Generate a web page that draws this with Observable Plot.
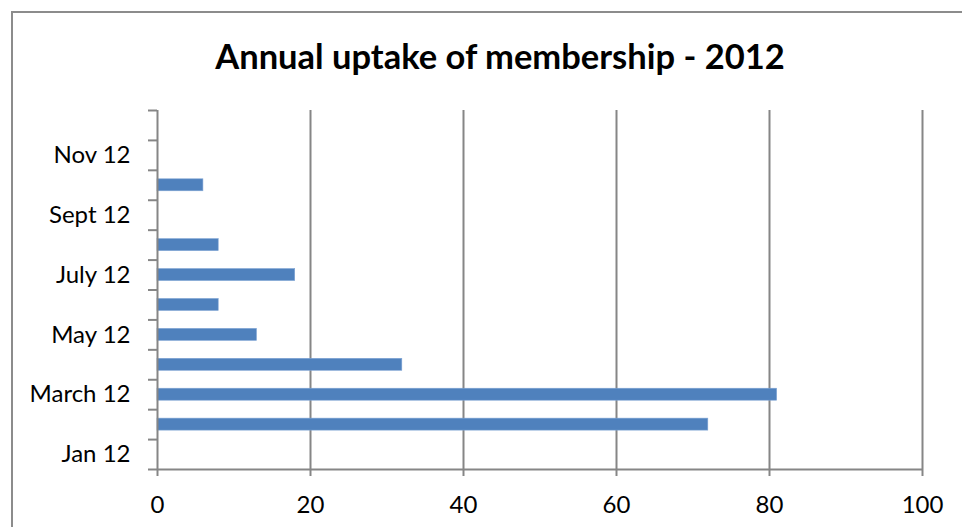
<!DOCTYPE html>
<html><head><meta charset="utf-8">
<script src="https://cdn.jsdelivr.net/npm/d3@7"></script>
<script src="https://cdn.jsdelivr.net/npm/@observablehq/plot@0.6"></script>
<style>
body{margin:0;background:#fff;overflow:hidden;}
#wrap{position:relative;width:962px;height:527px;overflow:hidden;}
#frame{position:absolute;left:11px;top:11px;width:1000px;height:600px;border:2px solid #8c8c8c;box-sizing:border-box;}
#title{position:absolute;top:35px;left:0;width:1000px;text-align:center;font:bold 34.5px Lato, "Open Sans", sans-serif;color:#000;}
#chart{position:absolute;left:0;top:0;}
</style>
</head><body>
<div id="wrap"><div id="frame"></div><div id="chart"></div><div id="title"></div></div>
<script>
const titleText = "Annual uptake of membership - 2012";
const months = ["Jan 12","Feb 12","March 12","April 12","May 12","June 12","July 12","Aug 12","Sept 12","Oct 12","Nov 12","Dec 12"];
const members = [0, 72, 81, 32, 13, 8, 18, 8, 0, 6, 0, 0];
const xTicks = [0, 20, 40, 60, 80, 100];

document.getElementById("title").textContent = titleText;
const data = months.map((m, i) => ({i, month: m, value: members[i]}));
const boundaries = d3.range(months.length + 1).map(k => k - 0.5);
const labelIdx = d3.range(0, months.length, 2);
const grey = "#868686";

const chart = Plot.plot({
  width: 962, height: 527,
  marginLeft: 157, marginRight: 40, marginTop: 110, marginBottom: 58,
  style: {fontFamily: "Lato, 'Open Sans', sans-serif", fontSize: "24px", color: "#000", background: "transparent", overflow: "visible"},
  x: {domain: [0, 100]},
  y: {domain: [-0.5, months.length - 0.5]},
  marks: [
    Plot.gridX(xTicks.slice(1), {stroke: grey, strokeOpacity: 1, strokeWidth: 2}),
    Plot.rectX(data.filter(d => d.value > 0), {x1: 0, x2: "value", y1: d => d.i - 0.2, y2: d => d.i + 0.2, fill: "#4f81bd", stroke: "#7fa4d4", strokeWidth: 0.6}),
    Plot.ruleY([-0.5], {stroke: grey, strokeWidth: 2}),
    Plot.ruleX([0], {stroke: grey, strokeWidth: 2}),
    Plot.axisX({ticks: xTicks, tickSize: 7, tickPadding: 19, stroke: grey, strokeWidth: 2, fill: "#000", label: null}),
    Plot.axisY({ticks: boundaries, tickSize: 9, tickFormat: () => "", stroke: grey, strokeWidth: 2, label: null}),
    Plot.axisY({ticks: labelIdx, tickSize: 0, tickPadding: 27, tickFormat: i => months[i], fill: "#000", label: null})
  ]
});
document.getElementById("chart").appendChild(chart);
</script>
</body></html>
